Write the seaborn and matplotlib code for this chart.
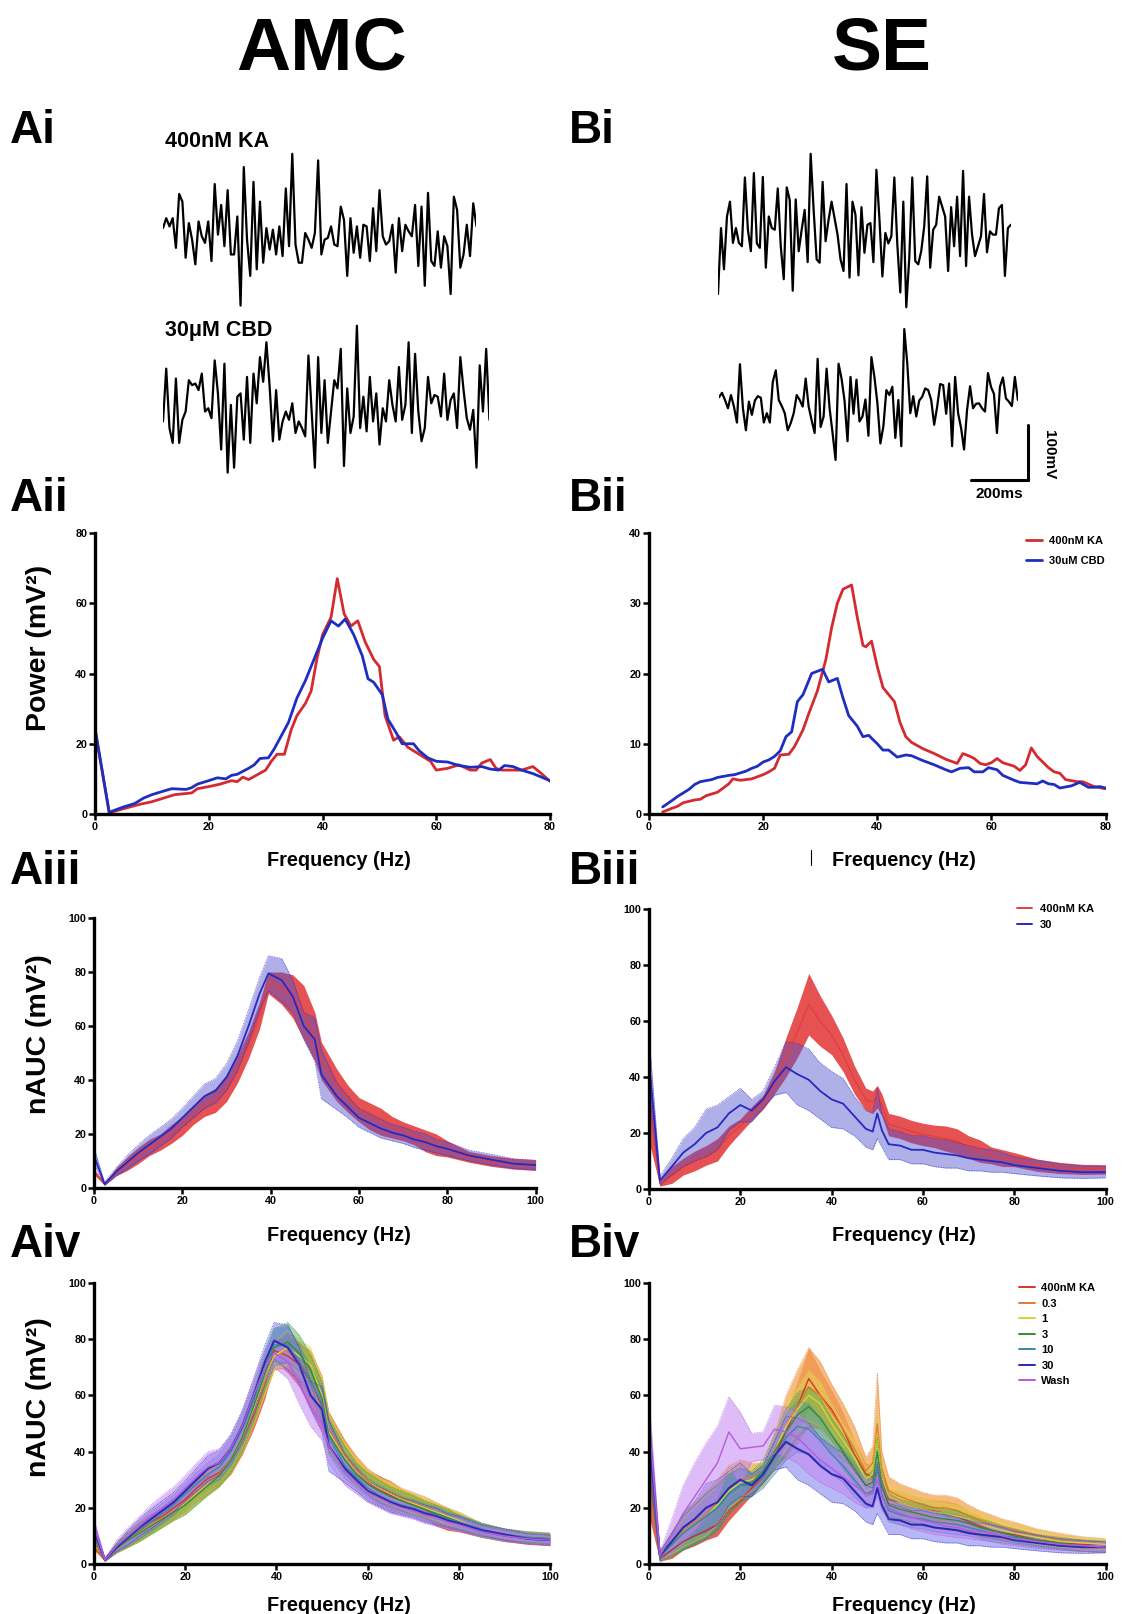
import numpy as np
import pandas as pd
import matplotlib
matplotlib.use("Agg")
import matplotlib.pyplot as plt
import seaborn as sns
from matplotlib.lines import Line2D

W, H = 1122, 1614
MS_PX = 57.2 / 200   # px per ms in the example traces
MV_PX = 55 / 100     # px per mV

# ---- example field recordings (mV), fixed sampling interval ----
AI_DT = 11.3
BI_DT = 10.45
AI_KA = [9, 27, 12, 27, -27, 71, 57, -45, 18, -12,
         -57, 21, -6, -18, 21, -51, 89, -3, 51, -24,
         78, -39, -39, 30, -132, 120, -12, -78, 93, -66,
         57, -54, 9, -30, 6, -39, 12, -42, 81, -24,
         144, -21, -54, -54, 0, -12, -27, 0, 132, -39,
         -12, -9, 12, -21, -24, 48, 24, -78, 27, -36,
         12, -45, 15, 12, -51, 45, -33, 78, -6, -21,
         -15, 15, -72, 27, -33, 15, 3, -6, 51, -60,
         48, -96, 73, -51, -60, 3, -63, -6, -24, -111,
         66, 42, -63, -39, 15, -42, 54, 12]
AI_CBD = [-39, 57, -51, -78, 39, -78, -36, -21, 36, 27,
          30, 18, 48, -21, -15, -33, 72, 12, -90, 66,
          -132, -9, -123, 6, 12, -72, 42, -78, 48, -6,
          78, 33, 105, 24, -75, 18, -72, -39, -21, -36,
          -6, -60, -39, -51, -66, 81, -21, -123, 78, -60,
          36, -78, -21, 36, 21, 93, -120, 21, -60, -30,
          135, -51, 6, -57, 42, -39, 12, -81, -15, -39,
          36, -9, -39, 60, -36, -9, 105, -60, 84, -21,
          -75, -51, 42, -6, 9, 6, -30, 48, -36, 0,
          12, -51, 78, 18, -33, -54, -18, -123, 63, -21,
          93, -36]
BI_KA = [-111, 9, -66, 30, 57, -18, 9, -18, -24, 101,
         6, -33, 109, -19, -27, 102, -63, 30, 9, 6,
         81, -24, -84, 83, 60, -105, 61, -33, 6, 42,
         -53, 144, 42, -48, -54, 93, -15, 24, 57, 27,
         -3, -48, -69, 89, -81, 57, 33, -77, 47, -36,
         15, 18, -53, 115, 27, -79, 0, -19, -6, 101,
         -21, -108, 57, -135, -45, 101, -51, -57, -33, 12,
         103, -63, 6, 15, 66, 48, 30, -69, 47, -24,
         66, -42, 113, -60, 66, -3, -42, -24, -6, 71,
         -35, 3, -3, -3, 45, 51, -78, 9, 15]
BI_CBD = [5, 13, 0, -15, 9, -12, -41, 65, -15, -55,
          -3, -27, -1, 7, 4, -41, -24, -41, 33, 54,
          0, -11, -24, -55, -42, -24, 9, 0, -12, 39,
          -12, -37, -60, 75, -49, -30, 57, -15, -60, -109,
          66, 39, -1, -75, 42, -25, 37, -39, -30, 1,
          -65, 78, 42, -6, -79, -48, 18, 9, 24, -69,
          0, -84, 129, 66, -24, 7, -30, -1, 6, 21,
          18, 0, -45, -12, 29, 27, -25, 30, -84, 42,
          -24, -51, -90, -18, 25, -15, -7, -6, -15, -21,
          49, 24, 11, -60, 24, 41, 3, -3, -11, 42,
          0]

# ---- single-slice power spectra (Aii, Bii) ----
AII_KA_F = [0, 2.5, 5, 8, 10, 12, 14, 17, 18, 20, 22, 24, 25, 26, 27, 30, 31, 32, 33.3,
            34.5, 35.5, 37, 38, 39, 40, 41.5, 42.6, 43.8, 45, 46.2, 47.5, 49, 50, 51, 52.5,
            53.5, 55, 57, 59, 60, 62, 63, 64, 66, 67, 68, 69.5, 70.5, 71.5, 73, 75, 77, 78.5, 80]
AII_KA_P = [24, 0.3, 1.5, 2.8, 3.5, 4.5, 5.5, 6, 7.2, 7.8, 8.5, 9.5, 9.2, 10.5, 9.8, 12.5, 15, 17, 17,
            24, 28, 31.5, 35, 44, 51, 56, 67, 57, 53.5, 55, 49, 44, 42, 28, 21,
            22, 19, 17, 15, 12.5, 13, 13.5, 14, 12.5, 12.5, 14.5, 15.5, 13, 12.5, 12.5, 12.5, 13.5, 11.5, 9.3]
AII_CBD_F = [0, 2.5, 5, 7, 8.5, 10, 12, 13.5, 16, 17, 18, 20, 21.5, 23, 24, 25, 27, 28, 29, 30.5,
             31.5, 33, 34, 35.5, 37, 38.5, 40, 41.5, 42.8, 44, 45.5, 47, 48, 49, 50.5, 51.5, 53, 54,
             56, 57, 58.5, 60, 62, 64, 66, 68, 69.5, 71, 72, 73.5, 75, 77, 78.5, 80]
AII_CBD_P = [24.5, 0.5, 2, 3, 4.5, 5.5, 6.5, 7.2, 7, 7.5, 8.5, 9.5, 10.3, 10, 11, 11.3, 13, 14, 15.8, 16,
             18.5, 23, 26, 33, 38, 44, 50, 55, 53.5, 55.5, 51, 45, 38.5, 37.5, 34, 27, 23, 20,
             20, 18, 16, 15, 14.8, 13.8, 13.3, 13.5, 12.8, 12.5, 13.8, 13.5, 12.5, 11.5, 10.5, 9.5]
BII_KA_F = [2.4, 4, 5, 6, 8, 9, 10, 12, 13, 14, 14.7, 16, 18, 20, 21, 22, 23, 24.5, 25.5, 27,
            28, 29.5, 31, 32, 33, 34, 35.5, 36.5, 37.5, 38, 39, 40, 41, 42, 43, 44, 45, 46, 48, 50,
            52, 54, 55, 56, 57, 58, 59, 60, 61, 62, 64, 65, 66, 67, 68, 70, 71, 72, 73, 75, 76, 78, 80]
BII_KA_P = [0.3, 0.8, 1.1, 1.6, 2.0, 2.1, 2.6, 3.1, 3.7, 4.3, 5.0, 4.8, 5.0, 5.6, 6.0, 6.5, 8.4, 8.5, 9.6, 12,
            14.3, 17.5, 22, 26.5, 30, 32, 32.6, 28, 24, 23.8, 24.6, 21, 18, 17, 16, 13, 11, 10.2, 9.3, 8.6,
            7.8, 7.2, 8.6, 8.3, 7.9, 7.2, 7.0, 7.3, 7.9, 7.3, 6.8, 6.2, 7.0, 9.4, 8.2, 6.6, 6.0, 5.8, 4.9, 4.6, 4.6, 3.9, 3.6]
BII_CBD_F = [2.4, 4, 5, 6, 7, 8, 9, 11, 12, 14, 15, 17, 18, 19, 20, 21, 22, 23, 24, 25,
             26, 27, 28.5, 30.4, 31.5, 33, 34, 35, 36.5, 37.5, 38.5, 40, 41, 42, 43.5, 45, 46, 48, 50, 52,
             53, 54.5, 56, 57, 58.5, 59.5, 61, 62, 64, 65, 68, 69, 70, 71, 72, 74, 75.5, 77, 78, 79, 80]
BII_CBD_P = [1.0, 1.9, 2.5, 3.0, 3.5, 4.2, 4.6, 4.9, 5.2, 5.5, 5.6, 6.1, 6.5, 6.8, 7.4, 7.7, 8.2, 9.0, 11, 11.7,
             16, 17, 20, 20.6, 18.8, 19.3, 16.5, 14, 12.5, 11, 11.2, 10.0, 9.1, 9.1, 8.1, 8.4, 8.3, 7.6, 7.0, 6.3,
             6.0, 6.5, 6.6, 6.0, 6.0, 6.6, 6.3, 5.5, 4.8, 4.5, 4.3, 4.7, 4.3, 4.2, 3.7, 4.0, 4.5, 3.8, 3.8, 3.9, 3.7]

# ---- pooled nAUC, AMC (mean and SEM) ----
A_F = [0, 2.4, 5, 7.5, 10, 12.5, 15, 17.5, 20, 22.5, 25, 27.5, 30, 32.5, 35, 37.5, 39.5, 42.5, 45,
       47.5, 50, 51.5, 55, 57.5, 60, 62.5, 65, 67.5, 70, 72.5, 75, 77.5, 80, 85, 90, 95, 100]
A_KA_M = [6, 1.5, 6, 9, 12, 15, 17, 20, 23, 27, 30.5, 32.5, 37, 44, 53, 64, 76, 74, 71,
          65, 56, 47, 38, 33, 29, 26.5, 24.5, 22.5, 21, 19.5, 17.5, 16, 14.5, 11.5, 10, 9, 8.5]
A_KA_S = [1, 0.5, 1.5, 2.5, 3, 3, 3, 3.5, 3.5, 3.5, 4, 4.5, 5, 5, 5, 5, 4, 6, 8,
          10, 9, 7, 6, 5, 4.5, 5, 5, 4, 3.5, 3.5, 4, 4, 3, 2, 2, 2, 2]
A_03_M = [8, 1.5, 5.5, 8.5, 11.5, 14, 16.5, 19, 22, 25.5, 29, 32, 37, 44, 54, 65, 74, 76, 72,
          69, 60, 48, 39, 34, 30, 27, 25.5, 23.5, 22, 20.5, 18.5, 17, 15.5, 12, 10.5, 9.5, 9]
A_03_S = [2, 0.5, 1.5, 2.5, 3, 3, 3, 3, 3.5, 3.5, 4, 4, 5, 5, 5, 5, 5, 6, 6,
          7, 7, 6, 5, 4.5, 4, 4, 4, 3.5, 3.5, 3.5, 3.5, 3, 3, 2.5, 2, 2, 2]
A_1_M = [9, 1.5, 5.5, 8.5, 11, 13.5, 16, 18.5, 21.5, 25, 28.5, 31.5, 37, 45, 55, 66, 74, 77, 74,
         71, 60, 47, 38, 33, 29.5, 27, 25, 23, 21.5, 20, 18.5, 17, 15.5, 12, 10.5, 9.5, 9]
A_1_S = [2, 0.5, 1.5, 2.5, 3, 3, 3, 3, 3.5, 3.5, 4, 4, 4.5, 5, 5, 5, 5, 6, 6,
         6, 6, 6, 5, 4.5, 4, 4, 4, 3.5, 3.5, 3.5, 3, 3, 3, 2.5, 2, 2, 2]
A_3_M = [10, 1.5, 5.5, 8.5, 11, 13.5, 16, 18.5, 21, 24.5, 28, 31.5, 37, 45, 56, 68, 77, 79, 75,
         69, 59, 46, 37, 32, 28.5, 26, 24, 22.5, 21, 19.5, 18, 16.5, 15, 12, 10.5, 9.5, 9]
A_3_S = [2, 0.5, 1.5, 2.5, 3, 3, 3, 3, 3.5, 3.5, 3.5, 4, 4.5, 5, 5.5, 6, 6.5, 7, 6.5,
         5.5, 6, 6, 5, 4, 4, 4, 3.5, 3.5, 3.5, 3, 3, 3, 2.5, 2.5, 2, 2, 2]
A_10_M = [11, 1.5, 6, 9, 12, 15, 18, 21, 25, 28.5, 32, 34.5, 40, 48, 58, 70, 78, 78, 72,
          65, 57, 45, 35, 31, 27, 24.5, 22.5, 21, 20, 18.5, 17.5, 16, 15, 12.5, 10.5, 9.5, 9]
A_10_S = [2.5, 0.5, 1.5, 2.5, 3, 3.5, 3.5, 3.5, 3.5, 4, 4, 4.5, 5, 5.5, 6, 6, 6, 6.5, 6,
          5, 6, 6, 4.5, 4, 3.5, 3.5, 3.5, 3, 3, 3, 3, 2.5, 2.5, 2, 2, 1.8, 1.8]
A_30_M = [12, 1.5, 6, 9.5, 13, 16, 19, 22, 26, 30, 34, 36, 41, 49, 60, 72, 79.5, 77, 71,
          60, 55, 42, 34, 30, 26, 24, 22, 20.5, 19.5, 18, 17, 15.5, 14.5, 12, 10.5, 9, 8.5]
A_30_S = [3, 0.5, 1.5, 2.5, 3, 3.5, 3.5, 3.5, 3.5, 4, 4.5, 4.5, 5, 5.5, 6, 6, 6.5, 8, 6,
          5, 8, 9, 5, 4, 3.5, 3.5, 3.5, 3, 3, 3, 3, 2.5, 2.5, 2, 2, 1.8, 1.8]
A_WASH_M = [13, 1.5, 6.5, 10, 13.5, 17, 20, 23, 27, 31, 34.5, 36, 41, 49, 60, 70, 75, 72, 64,
            56, 50, 42, 33, 29, 25.5, 23.5, 21.5, 20, 19, 17.5, 16.5, 15, 14, 11.5, 10, 9, 8.5]
A_WASH_S = [3, 0.5, 2, 3, 3.5, 4, 4.5, 4.5, 4.5, 5, 5.5, 5, 5, 5.5, 6, 6, 5, 6, 7,
            7, 6, 6, 5, 4, 3.5, 3.5, 3.5, 3, 3, 3, 3, 2.5, 2.5, 2, 2, 1.8, 1.8]

# ---- pooled nAUC, SE (mean and SEM) ----
B_F = [0, 2.4, 5, 7.5, 10, 12.5, 15, 17.5, 20, 22.5, 25, 27.5, 30, 32.5, 35, 37.5, 40, 42.5, 45, 47.5,
       49, 50, 51, 52.5, 55, 57.5, 60, 62.5, 65, 67.5, 70, 72.5, 75, 77.5, 80, 85, 90, 95, 100]
B_KA_M = [32, 2, 5, 8, 10, 12, 14, 19, 22.5, 27, 31, 38, 47, 56, 66, 60, 55, 48, 39, 32,
          31, 33, 30, 23, 22, 20.5, 19.5, 18.8, 18, 17, 15, 13.5, 12, 11, 10.5, 8.5, 7.5, 7, 7]
B_KA_S = [15, 1, 3, 3, 3.5, 3.5, 4, 3.5, 2.5, 2.5, 2.5, 4, 7, 9, 11, 9, 7, 6, 5, 4,
          4, 4, 4, 4, 4, 4, 4, 4, 4.5, 4.5, 4, 4, 3, 3, 2.5, 2.2, 2, 1.8, 1.7]
B_03_M = [40, 2.5, 7, 12, 15, 18, 22, 27, 30, 31, 32, 40, 49, 56, 63, 60, 54, 48, 41, 33,
          36, 50, 34, 26, 24, 22.5, 21, 20, 20, 19, 17, 15.5, 14, 13, 12, 10, 8.5, 7.5, 7]
B_03_S = [12, 1.5, 4, 6, 7, 8, 8, 8, 7, 5, 4, 6, 11, 13, 14, 12, 10, 9, 8, 5,
          6, 18, 6, 5, 4.5, 4.5, 4.5, 4.5, 4.5, 4.5, 4, 3.5, 3.5, 3, 3, 2.5, 2.5, 2.2, 2]
B_1_M = [42, 2.5, 7, 11, 14, 17, 21, 26, 29, 30, 32, 40, 49, 55, 60, 57, 50, 44, 38, 30,
         32, 45, 31, 24, 22, 20.5, 19.5, 18.5, 18, 17, 16, 14.5, 13, 12, 11, 9.5, 8, 7.5, 7]
B_1_S = [10, 1.5, 3.5, 5, 6, 7, 7, 6, 6, 4, 4, 6, 8, 8, 9, 8, 7, 6, 6, 4,
         5, 8, 5, 4, 4, 4, 4, 4, 4, 4, 3.5, 3.5, 3, 3, 2.5, 2.5, 2, 2, 2]
B_3_M = [40, 2.5, 7, 11, 14, 17, 20, 25, 28, 29, 33, 40, 47, 53, 56, 52, 46, 40, 34, 28,
         29, 40, 28, 21, 19.5, 18.5, 17.5, 16.5, 16, 15.5, 14.5, 13, 12, 11, 10, 8.5, 7.5, 6.5, 6]
B_3_S = [10, 1.5, 4, 6, 7, 8, 8, 7, 6, 4, 4, 6, 8, 8, 7, 7, 6, 6, 5, 4,
         4, 5, 4, 4, 3.5, 3.5, 4, 3.5, 3.5, 3.5, 3, 3, 3, 2.5, 2.5, 2, 2, 2, 1.8]
B_10_M = [42, 2.5, 7, 11, 14, 17, 20, 25, 28, 28, 31, 38, 45, 49, 48, 44, 39, 35, 30, 25,
          26, 34, 25, 19, 17.5, 16.5, 16, 15, 14.5, 14, 13, 12, 11, 10, 9.5, 8, 7, 6.5, 6]
B_10_S = [10, 1.5, 4, 6, 7, 8, 8, 7, 6, 4, 4, 6, 8, 9, 9, 8, 7, 6, 6, 5,
          5, 6, 5, 4, 3.5, 3.5, 3.5, 3.5, 3.5, 3.5, 3, 3, 3, 2.5, 2.5, 2, 2, 2, 1.8]
B_30_M = [45, 3, 8, 13, 16, 20, 22, 27, 30, 28, 32, 38.5, 43.5, 41, 39, 35, 32, 30.5, 26, 21.5,
          20.5, 27, 21, 16, 15.5, 14, 14, 13, 12.5, 12, 11, 10.5, 10, 9.5, 8.5, 7.5, 6.5, 6, 6]
B_30_S = [10, 1.5, 3, 5, 6, 8.5, 8, 6, 6, 4, 3, 5, 9, 11, 11, 10, 10, 9, 7, 6.5,
          6.5, 9, 6, 5.5, 5, 5, 5, 5, 5, 4.5, 4.5, 4, 4, 3.5, 3, 2.8, 2.5, 2.2, 2]
B_WASH_M = [50, 3, 10, 18, 24, 30, 36, 47, 41, 41.5, 42, 48, 47, 45, 41, 37, 34, 31, 28, 25,
            25, 30, 24, 20, 18, 16.5, 15.5, 14.5, 13.5, 13, 12, 11.5, 11, 10, 9, 8, 7, 6.5, 6]
B_WASH_S = [10, 1.5, 6, 10, 12, 13, 13, 12.5, 13, 5, 5, 8.5, 9, 9, 9, 8, 7, 6, 6, 5,
            5, 6, 5, 4, 4, 4, 4, 4, 3.5, 3.5, 3, 3, 3, 3, 2.5, 2.5, 2, 2, 2]

CONDITIONS = ["400nM KA", "0.3", "1", "3", "10", "30", "Wash"]
LINE_COLORS = ["#d8322c", "#e07a38", "#d6d23a", "#2f8f2f", "#3a88aa", "#2a2ab4", "#b65ae0"]
FILL_COLORS = ["#e0483a", "#f4ac5c", "#e2dc50", "#4aa84a", "#3f93b0", "#7070ee", "#c486f2"]
FILL_ALPHA = [0.85, 0.8, 0.5, 0.45, 0.4, 0.5, 0.55]
RED, BLUE = "#d42a30", "#1f2ec0"
BOLD = "bold"


def px_axes(fig, left, top, right, bottom):
    return fig.add_axes([left / W, 1 - bottom / H, (right - left) / W, (bottom - top) / H])


def trace_axes(fig, left, center, n, dt):
    dur = (n - 1) * dt
    half = 120
    ax = fig.add_axes([left / W, 1 - (center + half) / H, dur * MS_PX / W, 2 * half / H])
    ax.set_xlim(0, dur)
    ax.set_ylim(-half / MV_PX, half / MV_PX)
    ax.axis("off")
    return ax


def style_spectrum(ax, xmax, ymax, ystep):
    ax.set_xlim(0, xmax)
    ax.set_ylim(0, ymax)
    xt = np.arange(0, xmax + 1, 20)
    yt = np.arange(0, ymax + 1, ystep)
    ax.set_xticks(xt)
    ax.set_xticklabels([str(int(v)) for v in xt], fontweight=BOLD, fontsize=7.7)
    ax.set_yticks(yt)
    ax.set_yticklabels([str(int(v)) for v in yt], fontweight=BOLD, fontsize=7.7)
    sns.despine(ax=ax)
    for s in ("left", "bottom"):
        ax.spines[s].set_linewidth(2.4)
        ax.spines[s].set_color("black")
    ax.tick_params(direction="out", length=4, width=1.8, pad=1.5, colors="black")
    ax.set_xlabel("")
    ax.set_ylabel("")
    ax.grid(False)


def band(ax, f, m, s, fill, alpha, line, lw, edge=True):
    m = np.asarray(m, float)
    s = np.asarray(s, float)
    lo = np.clip(m - s, 0, None)
    hi = m + s
    ax.fill_between(f, lo, hi, color=fill, alpha=alpha, lw=0)
    if edge:
        ax.plot(f, lo, ls=(0, (1, 1)), color=line, lw=0.6, alpha=0.8)
        ax.plot(f, hi, ls=(0, (1, 1)), color=line, lw=0.6, alpha=0.8)
    sns.lineplot(x=f, y=m, ax=ax, color=line, lw=lw)


def legend(ax, labels, colors, lw, anchor, spacing, hlen, hpad):
    handles = [Line2D([0], [0], color=c, lw=lw) for c in colors]
    ax.legend(handles, labels, loc="upper left", bbox_to_anchor=anchor, frameon=False,
              prop={"weight": BOLD, "size": 8}, borderaxespad=0, borderpad=0,
              labelspacing=spacing, handlelength=hlen, handletextpad=hpad, labelcolor="black")


def main() -> None:
    sns.set_theme(style="ticks")
    plt.rcParams["font.family"] = ["Liberation Sans", "DejaVu Sans"]
    plt.rcParams["text.color"] = "black"
    plt.rcParams["axes.labelcolor"] = "black"
    plt.rcParams["xtick.color"] = "black"
    plt.rcParams["ytick.color"] = "black"
    fig = plt.figure(figsize=(W / 100, H / 100), dpi=100)

    def ftext(x, y, s, **kw):
        fig.text(x / W, 1 - y / H, s, fontweight=BOLD, color="black", **kw)

    # column titles and panel letters
    ftext(322, 70, "AMC", fontsize=54, ha="center", va="baseline")
    ftext(882, 70, "SE", fontsize=54, ha="center", va="baseline")
    for label, x, y in [("Ai", 10, 143), ("Bi", 569, 143), ("Aii", 10, 511), ("Bii", 569, 511),
                        ("Aiii", 10, 884), ("Biii", 569, 884), ("Aiv", 10, 1257), ("Biv", 569, 1257)]:
        ftext(x, y, label, fontsize=33, ha="left", va="baseline")

    # ---- example traces ----
    ftext(165, 147, "400nM KA", fontsize=15.5, ha="left", va="baseline")
    ftext(165, 336, "30\u03bcM CBD", fontsize=15.5, ha="left", va="baseline")
    for vals, left, center, dt in [(AI_KA, 163, 233, AI_DT), (AI_CBD, 163, 400, AI_DT),
                                   (BI_KA, 718, 233, BI_DT), (BI_CBD, 719, 400, BI_DT)]:
        ax = trace_axes(fig, left, center, len(vals), dt)
        sns.lineplot(x=np.arange(len(vals)) * dt, y=vals, ax=ax, color="black", lw=1.6)
    # scale bar on the last trace axes: 200 ms x 100 mV
    ax.plot([880, 1080], [-145.5, -145.5], color="black", lw=2.2, clip_on=False)
    ax.plot([1080, 1080], [-145.5, -45.5], color="black", lw=2.2, clip_on=False)
    ax.text(980, -171, "200ms", ha="center", va="center", fontsize=11, fontweight=BOLD, clip_on=False)
    ax.text(1155, -100, "100mV", ha="center", va="center", rotation=-90, fontsize=11,
            fontweight=BOLD, clip_on=False)

    # ---- Aii / Bii ----
    ax = px_axes(fig, 95, 533, 550, 814)
    sns.lineplot(x=AII_KA_F, y=AII_KA_P, ax=ax, color=RED, lw=2.0)
    sns.lineplot(x=AII_CBD_F, y=AII_CBD_P, ax=ax, color=BLUE, lw=2.0)
    style_spectrum(ax, 80, 80, 20)

    ax = px_axes(fig, 649, 533, 1105.5, 814)
    sns.lineplot(x=BII_KA_F, y=BII_KA_P, ax=ax, color=RED, lw=2.0)
    sns.lineplot(x=BII_CBD_F, y=BII_CBD_P, ax=ax, color=BLUE, lw=2.0)
    style_spectrum(ax, 80, 40, 10)
    legend(ax, ["400nM KA", "30uM CBD"], [RED, BLUE], 2.0, (0.826, 0.99), 0.95, 1.45, 0.65)

    # ---- Aiii / Biii ----
    ax = px_axes(fig, 94, 918, 535.6, 1188)
    band(ax, A_F, A_KA_M, A_KA_S, "#e23232", 0.85, "#e04040", 1.0, edge=False)
    band(ax, A_F, A_30_M, A_30_S, "#5050d0", 0.45, "#2828c0", 1.3)
    style_spectrum(ax, 100, 100, 20)

    ax = px_axes(fig, 649, 909, 1105.5, 1189)
    band(ax, B_F, B_KA_M, B_KA_S, "#e23232", 0.85, "#e04040", 1.0, edge=False)
    band(ax, B_F, B_30_M, B_30_S, "#5050d0", 0.45, "#2828c0", 1.3)
    style_spectrum(ax, 100, 100, 20)
    legend(ax, ["400nM KA", "30"], ["#e04040", "#2828c0"], 1.4, (0.807, 1.018), 0.5, 1.3, 0.74)

    # ---- Aiv / Biv ----
    a_means = [A_KA_M, A_03_M, A_1_M, A_3_M, A_10_M, A_30_M, A_WASH_M]
    a_sems = [A_KA_S, A_03_S, A_1_S, A_3_S, A_10_S, A_30_S, A_WASH_S]
    b_means = [B_KA_M, B_03_M, B_1_M, B_3_M, B_10_M, B_30_M, B_WASH_M]
    b_sems = [B_KA_S, B_03_S, B_1_S, B_3_S, B_10_S, B_30_S, B_WASH_S]
    for (left, top, right, bottom), freq, means, sems in [((94, 1283, 550, 1564), A_F, a_means, a_sems),
                                                          ((649, 1283, 1105.5, 1564), B_F, b_means, b_sems)]:
        ax = px_axes(fig, left, top, right, bottom)
        for i, cond in enumerate(CONDITIONS):
            lw = 1.5 if cond == "30" else 1.0
            band(ax, freq, means[i], sems[i], FILL_COLORS[i], FILL_ALPHA[i], LINE_COLORS[i], lw,
                 edge=(i > 0))
        style_spectrum(ax, 100, 100, 20)
    legend(ax, CONDITIONS, LINE_COLORS, 1.4, (0.81, 1.0), 0.5, 1.45, 0.58)

    # axis titles
    for y in (866, 1241, 1611):
        ftext(339, y, "Frequency (Hz)", fontsize=14.3, ha="center", va="baseline")
        ftext(904, y, "Frequency (Hz)", fontsize=14.3, ha="center", va="baseline")
    ftext(39, 648, "Power (mV\u00b2)", fontsize=20.5, rotation=90, ha="center", va="center")
    ftext(39, 1034, "nAUC (mV\u00b2)", fontsize=20.5, rotation=90, ha="center", va="center")
    ftext(39, 1397, "nAUC (mV\u00b2)", fontsize=20.5, rotation=90, ha="center", va="center")
    fig.add_artist(Line2D([811 / W, 811 / W], [1 - 850 / H, 1 - 865 / H], color="black", lw=0.8))

    fig.savefig("out.png", dpi=100)
    plt.close(fig)


if __name__ == "__main__":
    main()
